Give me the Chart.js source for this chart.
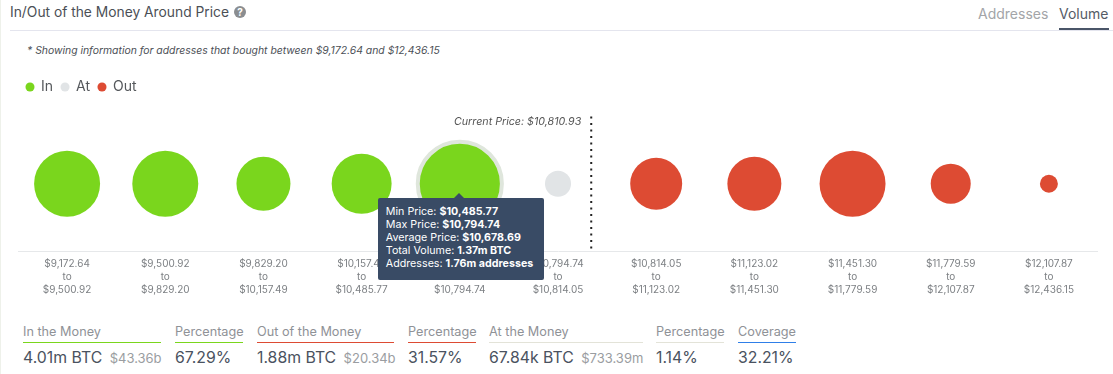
<!DOCTYPE html>
<html>
<head>
<meta charset="utf-8">
<script src="https://cdn.jsdelivr.net/npm/chart.js@4"></script>
<style>
  html, body { margin: 0; padding: 0; background: #fff; }
  body { width: 1113px; height: 374px; position: relative; overflow: hidden; font-family: Inter, "Noto Sans", sans-serif; color: #4a5568; }
  .abs { position: absolute; white-space: nowrap; }
  #edge { left: 0; top: 0; width: 1px; height: 374px; background: #eef1ea; }
  #title { left: 10px; top: 2px; font-size: 13.8px; line-height: 20px; color: #4b4f56; }
  #help { left: 234px; top: 6px; width: 12px; height: 12px; border-radius: 50%; background: #8a8d90; color: #fff; font-size: 10px; font-weight: 700; line-height: 12px; text-align: center; }
  #rule { left: 10px; top: 30px; width: 1103px; height: 1px; background: #e4e5ee; }
  #tabAddresses { left: 978px; top: 5px; font-size: 14px; line-height: 18px; color: #a3a5a8; }
  #tabVolume { left: 1059px; top: 5px; font-size: 14px; line-height: 18px; color: #555b66; }
  #tabLine { left: 1059px; top: 28px; width: 50px; height: 2px; background: #4a5568; }
  #note { left: 27px; top: 44px; font-size: 10.4px; line-height: 14px; font-style: italic; color: #4b4f56; }
  #chartBox { position: absolute; left: 18px; top: 72px; width: 1080px; height: 230px; }
  #tip { position: absolute; display: none; width: 150px; padding: 7px 8px 5px; height: 70px; background: #394b65; color: #fff; border-radius: 2px; font-size: 10.7px; line-height: 13px; white-space: nowrap; z-index: 5; }
  #tip:before { content: ""; position: absolute; left: 76px; top: -5px; border-left: 5px solid transparent; border-right: 5px solid transparent; border-bottom: 5px solid #394b65; }
  .stat { position: absolute; top: 322px; }
  .stat .label { font-size: 12.7px; line-height: 19px; color: #8f9297; height: 20px; white-space: nowrap; border-bottom: 1px solid; }
  .stat .value { font-size: 15.8px; line-height: 20px; margin-top: 5px; color: #4a5260; white-space: nowrap; }
  .stat .value small { font-size: 13px; color: #9a9da1; margin-left: 3px; }
</style>
</head>
<body>
<div class="abs" id="edge"></div>
<div class="abs" id="title">In/Out of the Money Around Price</div>
<div class="abs" id="help">?</div>
<div class="abs" id="rule"></div>
<div class="abs" id="tabAddresses">Addresses</div>
<div class="abs" id="tabVolume">Volume</div>
<div class="abs" id="tabLine"></div>
<div class="abs" id="note">* Showing information for addresses that bought between $9,172.64 and $12,436.15</div>

<div id="chartBox"><canvas id="moneyChart"></canvas></div>
<div id="tip"></div>

<div class="stat" style="left:23px;width:138px"><div class="label" style="border-color:#7ad61d">In the Money</div><div class="value">4.01m BTC <small>$43.36b</small></div></div>
<div class="stat" style="left:175px;width:68px"><div class="label" style="border-color:#7ad61d">Percentage</div><div class="value">67.29%</div></div>
<div class="stat" style="left:257px;width:137px"><div class="label" style="border-color:#dd4b33">Out of the Money</div><div class="value">1.88m BTC <small>$20.34b</small></div></div>
<div class="stat" style="left:408px;width:68px"><div class="label" style="border-color:#dd4b33">Percentage</div><div class="value">31.57%</div></div>
<div class="stat" style="left:489px;width:154px"><div class="label" style="border-color:#e3e3d8">At the Money</div><div class="value">67.84k BTC <small>$733.39m</small></div></div>
<div class="stat" style="left:656px;width:68px"><div class="label" style="border-color:#e3e3d8">Percentage</div><div class="value">1.14%</div></div>
<div class="stat" style="left:738px;width:58px"><div class="label" style="border-color:#2f7fe8">Coverage</div><div class="value">32.21%</div></div>

<script>
const lowPrices = [9172.64, 9500.92, 9829.20, 10157.49, 10485.77, 10794.74, 10814.05, 11123.02, 11451.30, 11779.59, 12107.87];
const highPrices = [9500.92, 9829.20, 10157.49, 10485.77, 10794.74, 10814.05, 11123.02, 11451.30, 11779.59, 12107.87, 12436.15];
// volume per bucket in millions of BTC
const volumes = [0.87, 0.87, 0.534, 0.69, 1.37, 0.0678, 0.485, 0.534, 0.87, 0.245, 0.0155];
const zones = ["In", "In", "In", "In", "In", "At", "Out", "Out", "Out", "Out", "Out"];
const zoneNames = ["In", "At", "Out"];
const zoneColors = { In: "#7ad61d", At: "#e1e4e6", Out: "#dd4b33" };

const currentPrice = 10810.93;
const hoveredBin = 4;
const hoveredAverage = "$10,678.69";
const hoveredVolume = "1.37m BTC";
const hoveredAddresses = "1.76m addresses";

function money(v) {
    return "$" + v.toLocaleString("en-US", {minimumFractionDigits: 2, maximumFractionDigits: 2});
}

function radiusFor(volume) {
    return 5.3 + 29.7 * Math.sqrt(volume);
}

const labels = lowPrices.map(function (low, i) {
    return [money(low), "to", money(highPrices[i])];
});

// every dataset keeps all the buckets, the ones of other zones have no y and are skipped
const datasets = zoneNames.map(function (zone) {
    return {
        label: zone,
        data: volumes.map(function (volume, i) {
            return {x: i, y: zones[i] === zone ? 0 : null, r: radiusFor(volume)};
        }),
        backgroundColor: zoneColors[zone],
        borderColor: zoneColors[zone],
        borderWidth: 0,
        hoverBackgroundColor: zoneColors[zone],
        hoverBorderColor: "#dfe6dc",
        hoverBorderWidth: 4,
        hoverRadius: 2
    };
});

// dotted line at the current price, placed inside the bucket that holds it
const currentPriceLine = {
    id: "currentPriceLine",
    beforeInit(chart) {
        // extra room between the legend and the plot
        const fit = chart.legend.fit;
        chart.legend.fit = function () {
            fit.call(this);
            this.height += 12.5;
        };
    },
    afterDatasetsDraw(chart) {
        const bin = lowPrices.findIndex(function (low, i) {
            return currentPrice >= low && currentPrice < highPrices[i];
        });
        const part = (currentPrice - lowPrices[bin]) / (highPrices[bin] - lowPrices[bin]);
        const x = chart.scales.x.getPixelForValue(bin - 0.5 + part);
        const area = chart.chartArea;
        const ctx = chart.ctx;
        ctx.save();
        ctx.strokeStyle = "#222";
        ctx.lineWidth = 2;
        ctx.setLineDash([2, 4.5]);
        ctx.beginPath();
        ctx.moveTo(x, area.top);
        ctx.lineTo(x, area.bottom);
        ctx.stroke();
        ctx.setLineDash([]);
        ctx.fillStyle = "#555";
        ctx.font = "italic 10.7px Inter";
        ctx.textAlign = "right";
        ctx.textBaseline = "middle";
        ctx.fillText("Current Price: " + money(currentPrice), x - 10, area.top + 5);
        ctx.restore();
    }
};

function showTip(context) {
    const tip = document.getElementById("tip");
    const model = context.tooltip;
    if (model.opacity === 0) {
        tip.style.display = "none";
        return;
    }
    const box = context.chart.canvas.parentNode;
    tip.innerHTML =
        "Min Price: <b>" + money(lowPrices[hoveredBin]) + "</b><br>" +
        "Max Price: <b>" + money(highPrices[hoveredBin]) + "</b><br>" +
        "Average Price: <b>" + hoveredAverage + "</b><br>" +
        "Total Volume: <b>" + hoveredVolume + "</b><br>" +
        "Addresses: <b>" + hoveredAddresses + "</b>";
    tip.style.display = "block";
    tip.style.left = (box.offsetLeft + model.caretX - 82) + "px";
    tip.style.top = (box.offsetTop + model.caretY + 14) + "px";
}

const chart = new Chart(document.getElementById("moneyChart").getContext("2d"), {
    type: "bubble",
    data: {labels: labels, datasets: datasets},
    plugins: [currentPriceLine],
    options: {
        responsive: true,
        maintainAspectRatio: false,
        animation: false,
        events: [],
        layout: {padding: 0, autoPadding: false},
        scales: {
            x: {
                type: "category",
                offset: true,
                grid: {display: false, drawTicks: false},
                border: {color: "#e6e8ea", width: 1},
                ticks: {
                    autoSkip: false,
                    maxRotation: 0,
                    padding: 6,
                    color: "#7d8084",
                    font: {family: "Inter", size: 10, lineHeight: 1.3}
                }
            },
            y: {display: false, min: -1, max: 1}
        },
        plugins: {
            legend: {
                position: "top",
                align: "start",
                labels: {
                    usePointStyle: true,
                    boxWidth: 8,
                    boxHeight: 6.4,
                    padding: 8,
                    color: "#55585c",
                    font: {family: "Inter", size: 14}
                }
            },
            tooltip: {enabled: false, external: showTip}
        }
    }
});

const active = [{datasetIndex: 0, index: hoveredBin}];
chart.setActiveElements(active);
chart.tooltip.setActiveElements(active, {x: 0, y: 0});
chart.update();
</script>
</body>
</html>
